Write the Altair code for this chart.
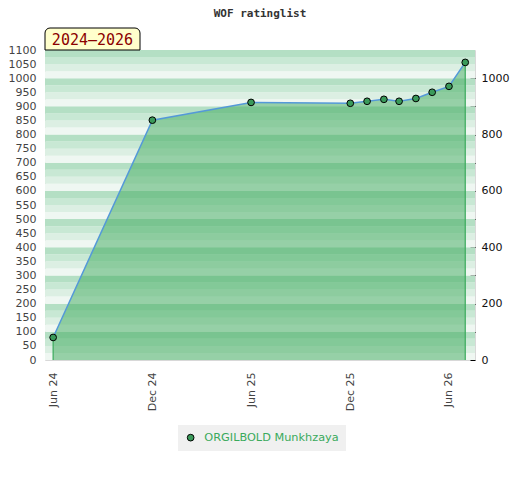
import altair as alt
import pandas as pd

# ---- data ----
chart_title = "WOF ratinglist"
player = "ORGILBOLD Munkhzaya"
period_label = "2024–2026"
dates = ["2024-06-01", "2024-12-01", "2025-06-01", "2025-12-01", "2026-01-01",
         "2026-02-01", "2026-03-01", "2026-04-01", "2026-05-01", "2026-06-01", "2026-07-01"]
ratings = [80, 851, 914, 911, 918, 925, 918, 928, 950, 971, 1056]

left_ticks = list(range(0, 1101, 50))
right_ticks = list(range(0, 1001, 100))
x_tick_dates = [(2024, 6), (2024, 12), (2025, 6), (2025, 12), (2026, 6)]
stripe_lows = list(range(0, 1100, 25))
stripe_colors = ["#eff7f2", "#dcefe3", "#c8e8d4", "#b4dfc4"]

df = pd.DataFrame({"date": dates, "rating": ratings, "player": [player] * len(dates)})
edges = df.iloc[[0, len(df) - 1]].copy()
edges["base"] = 0
stripes = pd.DataFrame({
    "lo": stripe_lows,
    "hi": [v + 25 for v in stripe_lows],
    "col": [stripe_colors[(v % 100) // 25] for v in stripe_lows],
})
tab = pd.DataFrame({"label": [period_label], "title": [chart_title]})

FONT = "DejaVu Sans"
yscale = alt.Scale(domain=[0, 1100], nice=False, zero=True)
xscale = alt.Scale(type="utc",
                   domain=[alt.DateTime(year=2024, month=5, date=17, utc=True),
                           alt.DateTime(year=2026, month=7, date=19, utc=True)])
x_axis = alt.Axis(values=[alt.DateTime(year=y, month=m, date=1, utc=True) for y, m in x_tick_dates],
                  labelExpr="utcFormat(datum.value, '%b %y')",
                  labelAngle=270, labelAlign="right",
                  labelBaseline="middle", ticks=False, domain=False, grid=False,
                  labelPadding=12, labelFont=FONT, labelFontSize=11, labelColor="#444",
                  title=None)
y_axis = alt.Axis(values=left_ticks, format="d", ticks=False, domain=False, grid=False,
                  labelPadding=9, labelFont=FONT, labelFontSize=11, labelColor="#444",
                  title=None)

x_enc = alt.X("date:T", scale=xscale, axis=x_axis)
y_enc = alt.Y("rating:Q", scale=yscale, axis=y_axis)

bg = alt.Chart(stripes).mark_rect().encode(
    x=alt.value(0), x2=alt.value(430),
    y=alt.Y("lo:Q", scale=yscale, axis=y_axis), y2="hi:Q",
    fill=alt.Fill("col:N", scale=None),
)

area = alt.Chart(df).mark_area(color="#3daa5c", opacity=0.5).encode(x=x_enc, y=y_enc)
line = alt.Chart(df).mark_line(color="#5499d8", strokeWidth=1.5).encode(x=x_enc, y=y_enc)
rules = alt.Chart(edges).mark_rule(color="#3aaa5c", strokeWidth=1.2).encode(
    x=x_enc, y=alt.Y("base:Q", scale=yscale, axis=y_axis), y2="rating:Q")
points = alt.Chart(df).mark_point(filled=True, size=45, stroke="black", strokeWidth=1,
                                  opacity=1).encode(
    x=x_enc, y=y_enc,
    color=alt.Color("player:N", scale=alt.Scale(range=["#3a9a5a"]),
                    legend=alt.Legend(orient="none", legendX=133, legendY=375, title=None,
                                      fillColor="#f0f0f0", padding=7,
                                      labelColor="#3aaa5c", labelFont=FONT, labelFontSize=11.3,
                                      labelOffset=8,
                                      symbolType="circle", symbolSize=45,
                                      symbolStrokeColor="black", symbolStrokeWidth=1)),
)

tab_rect = alt.Chart(tab).mark_rect(fill="#ffffcc", stroke="black", strokeWidth=1,
                                    cornerRadiusTopLeft=5, cornerRadiusTopRight=5).encode(
    x=alt.value(0), x2=alt.value(95), y=alt.value(-22), y2=alt.value(0))
tab_text = alt.Chart(tab).mark_text(font="DejaVu Sans Mono", fontSize=15, color="#8b0000",
                                    align="center", baseline="middle").encode(
    x=alt.value(47.5), y=alt.value(-10), text="label:N")
title_text = alt.Chart(tab).mark_text(font="DejaVu Sans Mono", fontSize=11, fontWeight="bold",
                                      color="#333", align="center", baseline="alphabetic").encode(
    x=alt.value(215), y=alt.value(-33), text="title:N")

main = alt.layer(bg, area, line, rules, points, tab_rect, tab_text, title_text)

right = alt.Chart(df).mark_point(opacity=0).encode(
    x=x_enc,
    y=alt.Y("rating:Q", scale=yscale,
            axis=alt.Axis(orient="right", values=right_ticks, format="d",
                          labelExpr="datum.value % 200 == 0 ? datum.label : ''",
                          tickSize=5, tickColor="black", domain=False, grid=False,
                          offset=-5, labelPadding=6, labelFont=FONT, labelFontSize=11,
                          labelColor="#111", title=None)),
)

chart = alt.layer(main, right).resolve_scale(y="independent").properties(
    width=430, height=310,
    autosize=alt.AutoSizeParams(type="none"),
    padding={"left": 37, "top": 42, "right": 35, "bottom": 110},
).configure_view(stroke="#d8d8d8")

chart.save("out.html", embed_options={"renderer": "svg", "actions": False})
